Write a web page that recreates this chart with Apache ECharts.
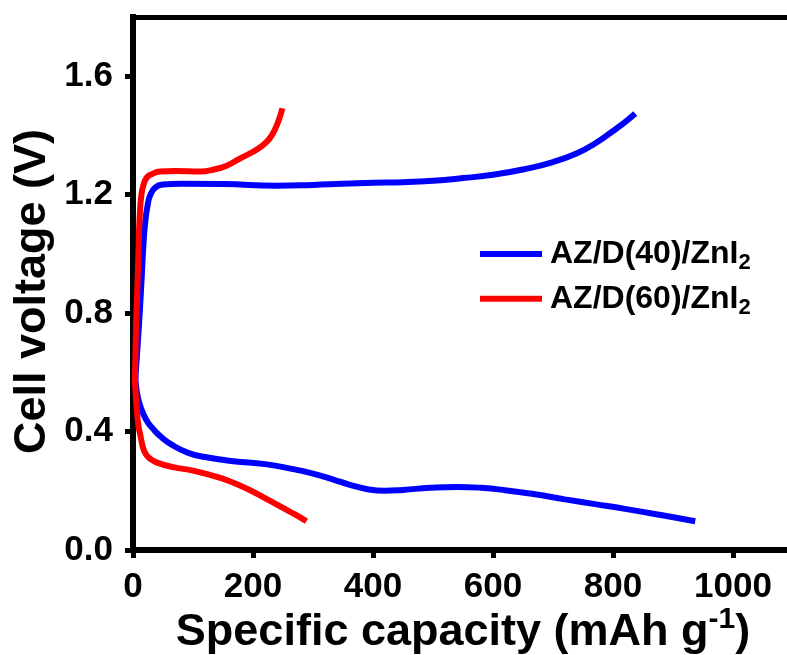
<!DOCTYPE html>
<html>
<head>
<meta charset="utf-8">
<script src="https://cdn.jsdelivr.net/npm/echarts@6/dist/echarts.min.js"></script>
<style>
  html, body { margin: 0; padding: 0; background: #fff; }
  #chart { width: 787px; height: 655px; }
</style>
</head>
<body>
<div id="chart"></div>
<script>
// Tick positions shown on each axis
const xTicks = [0, 200, 400, 600, 800, 1000];
const yTicks = [0, 0.4, 0.8, 1.2, 1.6];

// Legend / series names
const nameD40 = 'AZ/D(40)/ZnI2';
const nameD60 = 'AZ/D(60)/ZnI2';

// AZ/D(40)/ZnI2 charge curve: capacity (mAh g-1) and voltage (V)
const d40ChargeCap = [3, 6, 9, 12, 15, 17, 20, 24, 29, 37, 50, 80, 150, 240, 300, 350, 400, 450, 500, 550, 600, 650, 700, 740, 770, 800, 820, 837];
const d40ChargeV   = [0.55, 0.64, 0.73, 0.83, 0.94, 1.02, 1.10, 1.16, 1.20, 1.224, 1.234, 1.237, 1.236, 1.230, 1.233, 1.237, 1.240, 1.242, 1.247, 1.256, 1.267, 1.285, 1.310, 1.340, 1.373, 1.415, 1.445, 1.474];

// AZ/D(40)/ZnI2 discharge curve
const d40DischargeCap = [3, 6, 10, 17, 25, 33, 45, 65, 92, 120, 167, 220, 267, 300, 334, 360, 389, 420, 450, 495, 540, 580, 620, 670, 720, 770, 820, 880, 937];
const d40DischargeV   = [0.60, 0.54, 0.50, 0.46, 0.43, 0.41, 0.385, 0.355, 0.328, 0.314, 0.300, 0.290, 0.273, 0.258, 0.238, 0.221, 0.206, 0.200, 0.203, 0.210, 0.213, 0.210, 0.202, 0.188, 0.171, 0.155, 0.139, 0.118, 0.097];

// AZ/D(60)/ZnI2 charge curve
const d60ChargeCap = [3, 5, 7, 9, 11, 14, 18, 23, 32, 45, 70, 112, 135, 156, 178, 200, 215, 227, 236, 243, 249];
const d60ChargeV   = [0.56, 0.75, 0.87, 1.00, 1.12, 1.20, 1.236, 1.258, 1.270, 1.278, 1.280, 1.278, 1.285, 1.298, 1.322, 1.345, 1.365, 1.388, 1.418, 1.452, 1.492];

// AZ/D(60)/ZnI2 discharge curve
const d60DischargeCap = [3, 6, 9, 12, 17, 22, 28, 40, 67, 100, 134, 160, 190, 220, 250, 270, 289];
const d60DischargeV   = [0.58, 0.48, 0.42, 0.39, 0.343, 0.322, 0.309, 0.295, 0.280, 0.268, 0.250, 0.233, 0.207, 0.175, 0.142, 0.120, 0.097];

const FONT = '"Liberation Sans", Arial, Helvetica, sans-serif';
const BLUE = '#0000ff';
const RED = '#ff0000';

function pairs(xs, ys) {
  return xs.map((x, i) => [x, ys[i]]);
}

function curve(name, color, xs, ys) {
  return {
    type: 'line',
    name: name,
    data: pairs(xs, ys),
    showSymbol: false,
    symbol: 'none',
    smooth: 0.5,
    lineStyle: { width: 6, color: color, cap: 'butt' },
    itemStyle: { color: color },
    emphasis: { disabled: true }
  };
}

const chart = echarts.init(document.getElementById('chart'));

chart.setOption({
  animation: false,
  backgroundColor: '#fff',
  grid: { left: 133, top: 17, right: -6, bottom: 105, outerBoundsMode: 'none', containLabel: false },
  legend: {
    data: [nameD40, nameD60],
    orient: 'vertical',
    left: 480,
    top: 238,
    padding: 0,
    itemGap: 8.7,
    itemWidth: 62,
    itemHeight: 6,
    icon: 'rect',
    formatter: function (name) {
      return '{t|' + name.slice(0, -1) + '}{s|' + name.slice(-1) + '}';
    },
    textStyle: {
      color: '#000',
      fontFamily: FONT,
      fontWeight: 'bold',
      fontSize: 32,
      rich: {
        t: { fontFamily: FONT, fontWeight: 'bold', fontSize: 32, lineHeight: 40, color: '#000', padding: [0, 0, 0, 3] },
        s: { fontFamily: FONT, fontWeight: 'bold', fontSize: 22, lineHeight: 18, verticalAlign: 'bottom', color: '#000' }
      }
    }
  },
  xAxis: [
    {
      type: 'value',
      min: 0,
      max: 1100,
      position: 'bottom',
      axisLine: { show: true, onZero: false, lineStyle: { color: '#000', width: 6, cap: 'square' } },
      axisTick: { show: true, inside: false, length: 8, customValues: xTicks, lineStyle: { color: '#000', width: 5 } },
      axisLabel: {
        customValues: xTicks, margin: 20, color: '#000', fontFamily: FONT, fontWeight: 'bold', fontSize: 35,
        formatter: function (v) { return String(v); }
      },
      splitLine: { show: false },
      name: '{a|Specific capacity (mAh g}{s|-1}{a|)}',
      nameLocation: 'middle',
      nameMoveOverlap: false,
      nameGap: 55,
      nameTextStyle: {
        color: '#000',
        fontFamily: FONT,
        fontWeight: 'bold',
        fontSize: 45,
        rich: {
          a: { fontFamily: FONT, fontWeight: 'bold', fontSize: 45, lineHeight: 56, color: '#000' },
          s: { fontFamily: FONT, fontWeight: 'bold', fontSize: 30, lineHeight: 24, verticalAlign: 'top', color: '#000' }
        }
      }
    },
    {
      type: 'value',
      min: 0,
      max: 1100,
      position: 'top',
      axisLine: { show: true, onZero: false, lineStyle: { color: '#000', width: 5, cap: 'square' } },
      axisTick: { show: false },
      axisLabel: { show: false },
      splitLine: { show: false }
    }
  ],
  yAxis: {
    type: 'value',
    min: 0,
    max: 1.8,
    axisLine: { show: true, onZero: false, lineStyle: { color: '#000', width: 6, cap: 'square' } },
    axisTick: { show: true, inside: false, length: 8, customValues: yTicks, lineStyle: { color: '#000', width: 5 } },
    axisLabel: {
      customValues: yTicks,
      margin: 20,
      color: '#000',
      fontFamily: FONT,
      fontWeight: 'bold',
      fontSize: 35,
      formatter: function (v) { return v.toFixed(1); }
    },
    splitLine: { show: false },
    name: 'Cell voltage (V)',
    nameLocation: 'middle',
    nameMoveOverlap: false,
    nameGap: 78,
    nameTextStyle: { color: '#000', fontFamily: FONT, fontWeight: 'bold', fontSize: 45, padding: [0, 16, 0, 0] }
  },
  series: [
    curve(nameD40, BLUE, d40ChargeCap, d40ChargeV),
    curve(nameD40, BLUE, d40DischargeCap, d40DischargeV),
    curve(nameD60, RED, d60ChargeCap, d60ChargeV),
    curve(nameD60, RED, d60DischargeCap, d60DischargeV)
  ]
});
</script>
</body>
</html>
